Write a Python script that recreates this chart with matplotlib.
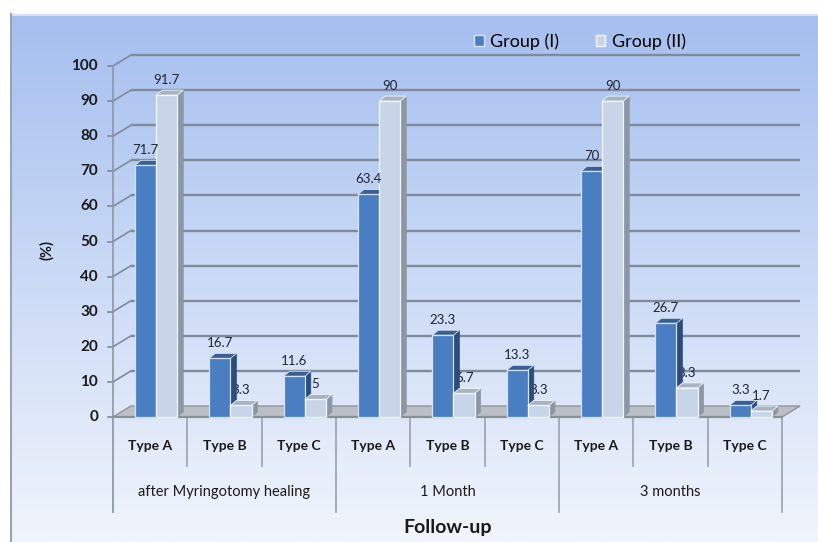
import numpy as np
import matplotlib
matplotlib.use('Agg')
import matplotlib.pyplot as plt
from matplotlib import font_manager as fm
from matplotlib.patches import Polygon, Patch

# --- data ---
periods = ['after Myringotomy healing', '1 Month', '3 months']
types = ['Type A', 'Type B', 'Type C']
group1 = [71.7, 16.7, 11.6, 63.4, 23.3, 13.3, 70, 26.7, 3.3]
group2 = [91.7, 3.3, 5, 90, 6.7, 3.3, 90, 8.3, 1.7]
series_names = ['Group (I)', 'Group (II)']
yticks = list(range(0, 101, 10))

# --- font (Lato is close to Calibri) ---
names = {f.name for f in fm.fontManager.ttflist}
FONT = 'Lato' if 'Lato' in names else 'DejaVu Sans'
plt.rcParams['font.family'] = [FONT, 'DejaVu Sans']

W, H = 818, 542
fig = plt.figure(figsize=(W / 100, H / 100), dpi=100)

# background panel with vertical gradient
bg = fig.add_axes([0, 0, 1, 1], zorder=-10)
bg.set_xlim(0, W)
bg.set_ylim(H, 0)
bg.axis('off')
top = np.array([0xa5, 0xbf, 0xef]) / 255
bot = np.array([0xf1, 0xf5, 0xfc]) / 255
t = np.linspace(0, 1, 256)[:, None]
grad = top[None, :] * (1 - t) + bot[None, :] * t
bg.imshow(grad[:, None, :], extent=[11, W, H, 14], aspect='auto', zorder=0)
bg.plot([11, W], [14.5, 14.5], color='#d8e2f2', lw=1.5, zorder=1)
bg.plot([11, 11], [14, H], color='#9aa3ae', lw=1.5, zorder=1)

# main axes: x 0..9 categories, y 0..100 %
x0, x1, y0, y1 = 113, 782, 417, 66
ax = fig.add_axes([x0 / W, (H - y0) / H, (x1 - x0) / W, (y0 - y1) / H])
ax.set_xlim(0, 9)
ax.set_ylim(0, 100)
ax.axis('off')
ax.patch.set_alpha(0)

pxx = (x1 - x0) / 9.0
pxy = (y0 - y1) / 100.0
dxw, dyw = 18 / pxx, 11 / pxy   # wall depth
dxb, dyb = 6 / pxx, 5 / pxy     # bar depth
ncat = len(group1)

# back wall gridlines + diagonals
grid_c = '#7f8a9a'
for v in yticks[1:]:
    ax.plot([dxw, 9 + dxw], [v + dyw, v + dyw], color=grid_c, lw=1.7,
            zorder=1, clip_on=False, solid_capstyle='butt')
    ax.plot([0, dxw], [v, v + dyw], color=grid_c, lw=1.2, zorder=1, clip_on=False)
    ax.plot([-5 / pxx, 0], [v, v], color=grid_c, lw=1.2, zorder=1, clip_on=False)
ax.plot([-5 / pxx, 0], [0, 0], color=grid_c, lw=1.2, zorder=1, clip_on=False)

# floor slab
floor = Polygon([(0, 0), (9, 0), (9 + dxw, dyw), (dxw, dyw)], closed=True,
                facecolor='#bcc0c6', edgecolor='#8f959c', lw=1, zorder=1.5, clip_on=False)
ax.add_patch(floor)
ax.plot([0, 9], [0, 0], color='#8a9098', lw=1.6, zorder=1.6, clip_on=False)

# y axis line
ax.plot([0, 0], [-27, 100], color='#8d96a2', lw=1.2, zorder=1, clip_on=False)
for v in yticks:
    ax.text(-15 / pxx, v, str(v), ha='right', va='center', fontsize=11,
            fontweight='bold', color='#1a1a1a', clip_on=False)


def bar3d(xl, w, h, front, side, topc, edge, z):
    ax.add_patch(Polygon([(xl + w, 0), (xl + w + dxb, dyb), (xl + w + dxb, h + dyb), (xl + w, h)],
                         facecolor=side, edgecolor=side, lw=0.5, zorder=z, clip_on=False))
    ax.add_patch(Polygon([(xl, h), (xl + w, h), (xl + w + dxb, h + dyb), (xl + dxb, h + dyb)],
                         facecolor=topc, edgecolor=edge, lw=0.6, zorder=z, clip_on=False))
    ax.add_patch(Polygon([(xl, 0), (xl + w, 0), (xl + w, h), (xl, h)],
                         facecolor=front, edgecolor=edge, lw=0.9, zorder=z, clip_on=False))


bw = 0.285
off1, off2 = 0.295, 0.58
for i in range(ncat):
    bar3d(i + off1, bw, group1[i], '#4a7ec2', '#2c4c7c', '#3a5f96', '#d6e2f4', 3)
    bar3d(i + off2, bw, group2[i], '#c8d5e9', '#8c97a6', '#a8b4c6', '#f4f7fc', 4)
    ax.text(i + off1 + bw / 2, group1[i] + 4.3, f'{group1[i]:g}', ha='center', va='center',
            fontsize=9.5, color='#1f2633', zorder=5, clip_on=False)
    ax.text(i + off2 + bw / 2, group2[i] + 4.3, f'{group2[i]:g}', ha='center', va='center',
            fontsize=9.5, color='#1f2633', zorder=2.8, clip_on=False)

# category axis separators and labels
sep_c = '#98a2af'
for i in range(ncat + 1):
    low = -27 if i % 3 == 0 else -14
    ax.plot([i, i], [0, low], color=sep_c, lw=1.2, zorder=1, clip_on=False)
for i in range(ncat):
    ax.text(i + 0.5, -8.3, types[i % 3], ha='center', va='center', fontsize=10,
            fontweight='bold', color='#1a1a1a', clip_on=False)
for j, p in enumerate(periods):
    ax.text(j * 3 + 1.5, -21.4, p, ha='center', va='center', fontsize=10.5,
            color='#1a1a1a', clip_on=False)

fig.text((x0 + x1) / 2 / W, 1 - 527 / H, 'Follow-up', ha='center', va='center',
         fontsize=14, fontweight='bold', color='#1a1a1a')
fig.text(47 / W, 1 - 250 / H, '(%)', ha='center', va='center', rotation=90,
         fontsize=10.5, fontweight='bold', color='#1a1a1a')

handles = [Patch(facecolor='#4a7ec2', edgecolor='#d6e2f4'),
           Patch(facecolor='#c8d5e9', edgecolor='#f4f7fc')]
fig.legend(handles, series_names, loc='center', bbox_to_anchor=(580 / W, 1 - 42 / H),
           ncol=2, frameon=False, fontsize=13, handlelength=0.55, handleheight=0.55,
           handletextpad=0.35, columnspacing=2.0)

fig.savefig('out.png', dpi=100)
